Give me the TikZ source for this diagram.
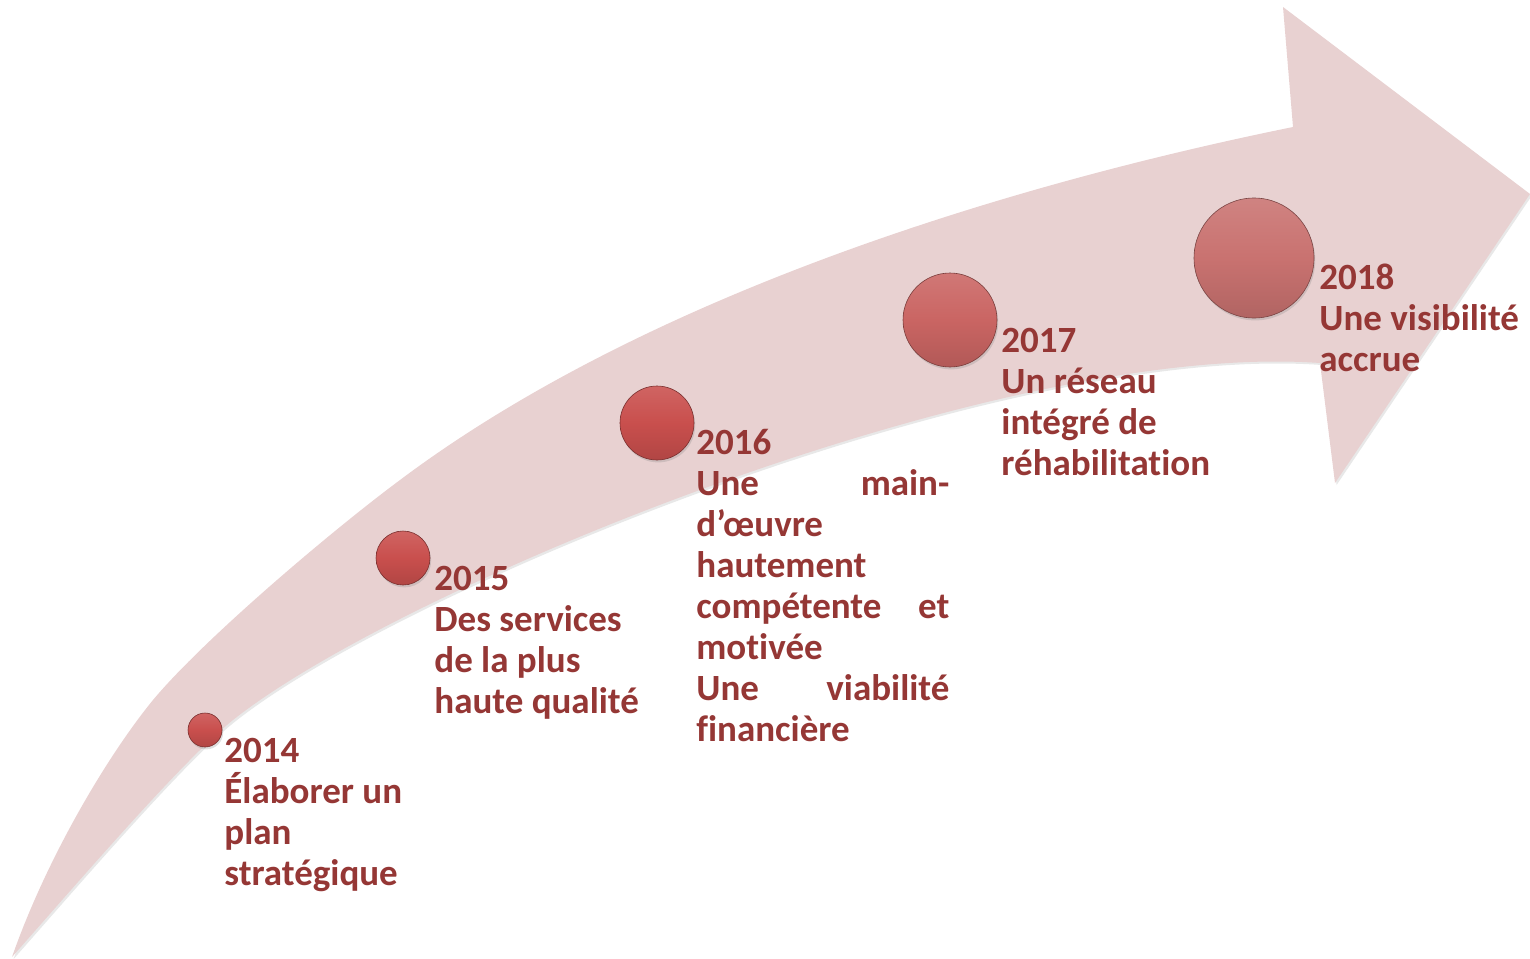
\documentclass[tikz,border=0pt]{standalone}
\usepackage{fontspec}
\setmainfont{Carlito}[Ligatures=NoCommon]
\usetikzlibrary{shadows}
\definecolor{arrowpink}{HTML}{E8D1D1}
\definecolor{labelred}{HTML}{953735}
\definecolor{ballred}{HTML}{C94F4D}
\definecolor{ballrose}{HTML}{CA6563}
\definecolor{ballpale}{HTML}{C97270}
\tikzset{
  ball/.style={circle,inner sep=0pt,draw=#1!60!black,line width=0.3pt,top color=#1!88!white,bottom color=#1!88!black,middle color=#1,
    drop shadow={opacity=0.25,shadow xshift=0.6pt,shadow yshift=-1.2pt}},
  % base anchor of a multi-line node sits on its last line
  milestone/.style={anchor=base west,align=left,inner sep=0pt,text=labelred,font=\bfseries\fontsize{18.5}{20.5}\selectfont},
  bigarrow/.style={fill=arrowpink,draw=none,drop shadow={opacity=0.18,shadow xshift=0.8pt,shadow yshift=-1pt}}
}
\newcommand{\jline}[1]{\makebox[126.5pt][s]{#1}}

\begin{document}
\begin{tikzpicture}[x=0.5pt,y=-0.5pt]
  \useasboundingbox (0,0) rectangle (1530,958);

  % curved arrow body and head
  \path[bigarrow] (12,957) .. controls (47,857) and (108,755) .. (153,700)
    .. controls (203,640) and (330,532) .. (400,480)
    .. controls (640,300) and (993,188) .. (1293,127)
    -- (1283,7) -- (1530,194) -- (1335,483) -- (1320,363)
    .. controls (1000,340) and (400,587) .. (233,720)
    .. controls (183,760) and (80,880) .. (12,957) -- cycle;

  % milestones
  \node (b2014) [ball=ballred,minimum size=17pt] at (205,730) {};
  \node (b2015) [ball=ballred,minimum size=27pt] at (403,558) {};
  \node (b2016) [ball=ballred,minimum size=37pt] at (657,423) {};
  \node (b2017) [ball=ballrose,minimum size=47pt] at (950,320) {};
  \node (b2018) [ball=ballpale,minimum size=60pt] at (1254,258) {};

  \node (t2014) [milestone] at (224,885) {2014\\Élaborer un\\plan\\stratégique};
  \node (t2015) [milestone] at (434,713) {2015\\Des services\\de la plus\\haute qualité};
  \node (t2016) [milestone] at (696,741) {2016\\\jline{Une main-}\\d’œuvre\\hautement\\\jline{compétente et}\\motivée\\\jline{Une viabilité}\\financière};
  \node (t2017) [milestone] at (1001,475) {2017\\Un réseau\\intégré de\\réhabilitation};
  \node (t2018) [milestone] at (1319,371) {2018\\Une visibilité\\accrue};
\end{tikzpicture}
\end{document}
